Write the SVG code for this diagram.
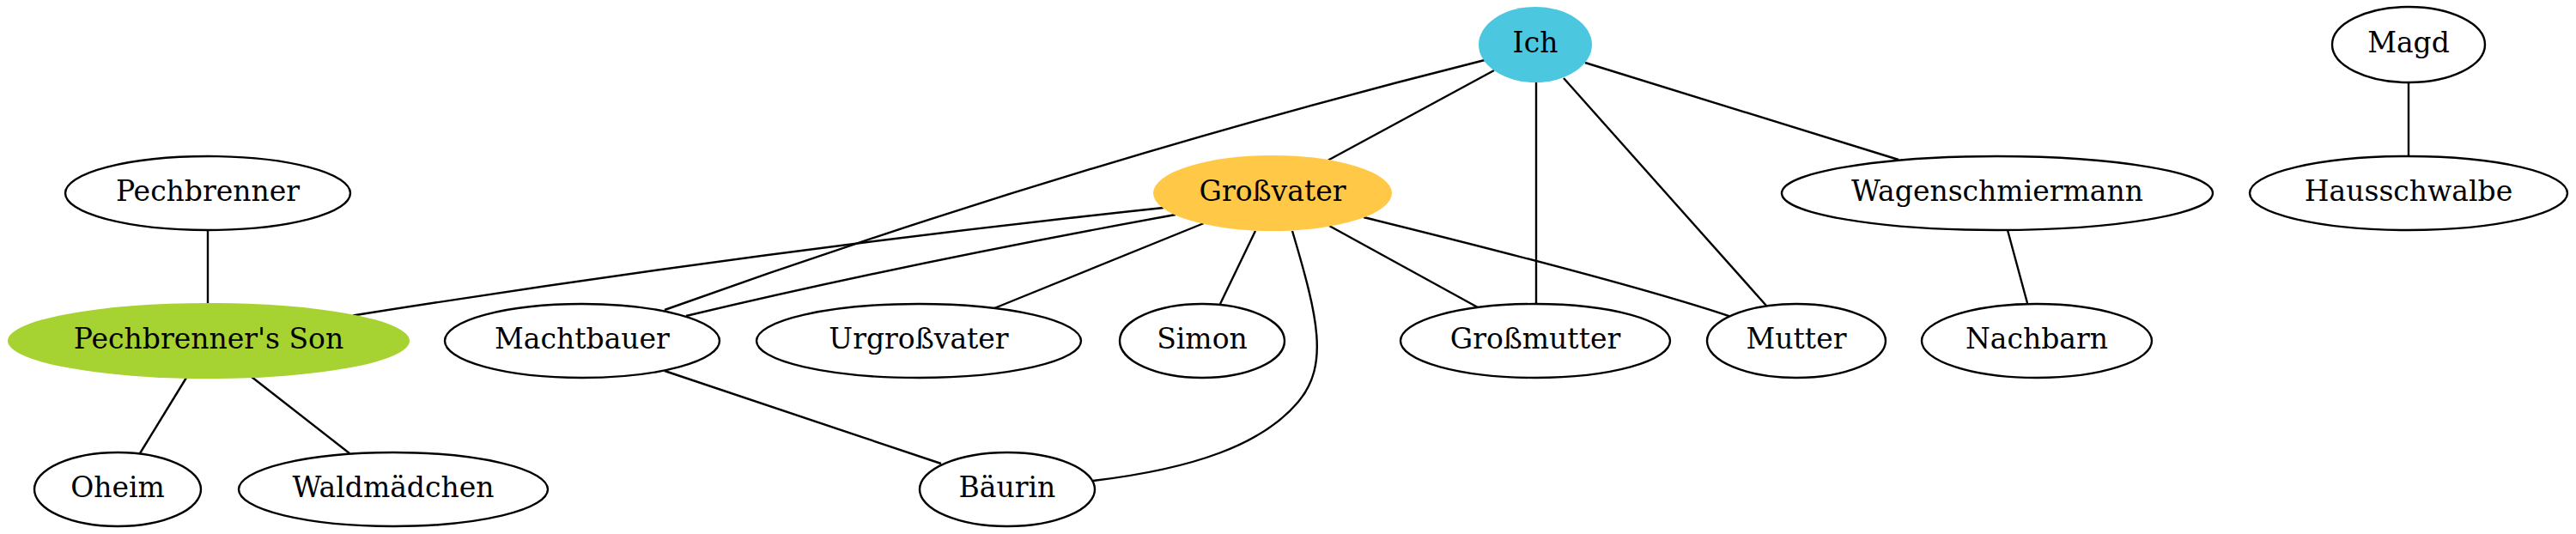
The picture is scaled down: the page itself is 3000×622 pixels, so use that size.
<svg xmlns="http://www.w3.org/2000/svg" width="3000" height="622" viewBox="0 0 3000 622">
<style>
.n ellipse{fill:#ffffff;stroke:#000000;stroke-width:2.4}
.n text{font-family:"DejaVu Serif","Liberation Serif",serif;font-size:33px;text-anchor:middle;fill:#000000}
#edges path{fill:none;stroke:#000000;stroke-width:2.4}
</style>
<rect width="3000" height="622" fill="#ffffff"/>
<g id="edges">
<path d="M1740,82 L1547,186.5"/>
<path d="M1729,70 Q1250,190 774,361"/>
<path d="M1355,242 Q900,290 411,367.5"/>
<path d="M1369,250 Q1050,308 799,368"/>
<path d="M1402,260 L1158,359"/>
<path d="M1462,269 L1421,354"/>
<path d="M1505,269 C1535,370 1548,425 1512,468 C1470,518 1390,546 1273,560"/>
<path d="M1548,263 L1721,358"/>
<path d="M1588,253 Q1900,330 2016,369"/>
<path d="M1789,96 L1789,353"/>
<path d="M1821,91 L2057,356"/>
<path d="M1846,73 L2211,186"/>
<path d="M2338,268 L2361,353"/>
<path d="M2805,96 L2805,182"/>
<path d="M242,268 L242,353"/>
<path d="M217,440 L163,528"/>
<path d="M293,439 L407,528"/>
<path d="M774,432 L1096,540"/>
</g>
<g id="node-ich" class="n"><ellipse cx="1788" cy="52" rx="66" ry="44" style="fill:#4BC8E0;stroke:none"/><text x="1788" y="61">Ich</text></g>
<g id="node-magd" class="n"><ellipse cx="2805" cy="52" rx="89" ry="44"/><text x="2805" y="61">Magd</text></g>
<g id="node-pechbrenner" class="n"><ellipse cx="242" cy="225" rx="166" ry="43"/><text x="242" y="234">Pechbrenner</text></g>
<g id="node-grossvater" class="n"><ellipse cx="1482" cy="225" rx="139" ry="44" style="fill:#FFC847;stroke:none"/><text x="1482" y="234">Großvater</text></g>
<g id="node-wagenschmiermann" class="n"><ellipse cx="2326" cy="225" rx="251" ry="43"/><text x="2326" y="234">Wagenschmiermann</text></g>
<g id="node-hausschwalbe" class="n"><ellipse cx="2805" cy="225" rx="185" ry="43"/><text x="2805" y="234">Hausschwalbe</text></g>
<g id="node-pechbrenners-son" class="n"><ellipse cx="243" cy="397" rx="234" ry="44" style="fill:#A6D232;stroke:none"/><text x="243" y="406">Pechbrenner's Son</text></g>
<g id="node-machtbauer" class="n"><ellipse cx="678" cy="397" rx="160" ry="43"/><text x="678" y="406">Machtbauer</text></g>
<g id="node-urgrossvater" class="n"><ellipse cx="1070" cy="397" rx="189" ry="43"/><text x="1070" y="406">Urgroßvater</text></g>
<g id="node-simon" class="n"><ellipse cx="1400" cy="397" rx="96" ry="43"/><text x="1400" y="406">Simon</text></g>
<g id="node-grossmutter" class="n"><ellipse cx="1788" cy="397" rx="157" ry="43"/><text x="1788" y="406">Großmutter</text></g>
<g id="node-mutter" class="n"><ellipse cx="2092" cy="397" rx="104" ry="43"/><text x="2092" y="406">Mutter</text></g>
<g id="node-nachbarn" class="n"><ellipse cx="2372" cy="397" rx="134" ry="43"/><text x="2372" y="406">Nachbarn</text></g>
<g id="node-oheim" class="n"><ellipse cx="137" cy="570" rx="97" ry="43"/><text x="137" y="579">Oheim</text></g>
<g id="node-waldmaedchen" class="n"><ellipse cx="458" cy="570" rx="180" ry="43"/><text x="458" y="579">Waldmädchen</text></g>
<g id="node-baeurin" class="n"><ellipse cx="1173" cy="570" rx="102" ry="43"/><text x="1173" y="579">Bäurin</text></g>
</svg>
